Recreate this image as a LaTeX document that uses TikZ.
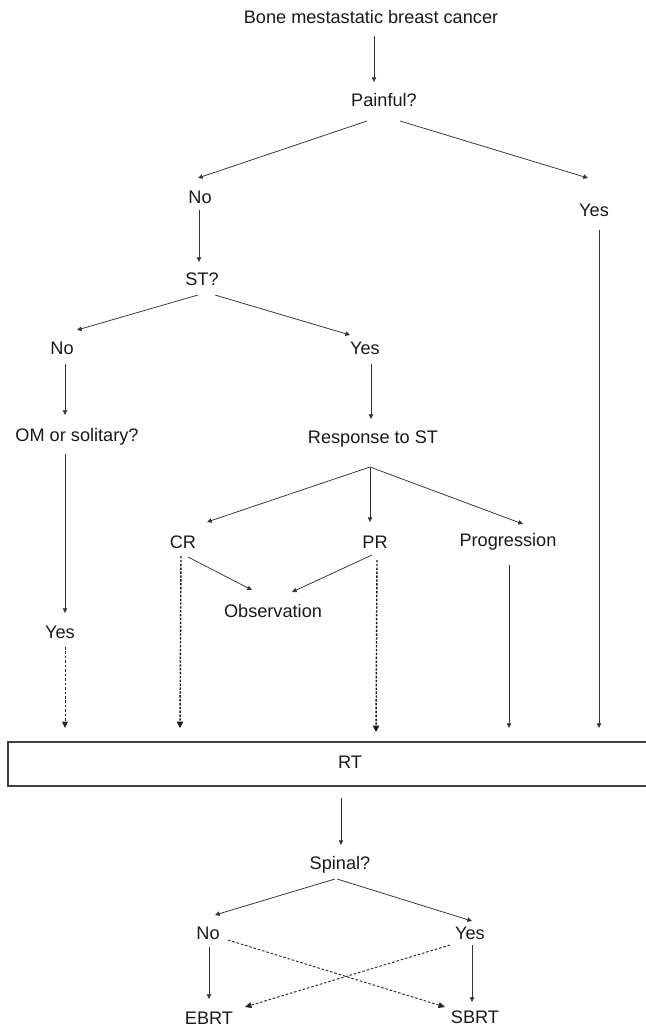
\documentclass[tikz,border=0pt]{standalone}
\usepackage{fontspec}
\setmainfont{Liberation Sans}
\usetikzlibrary{arrows.meta}
\tikzset{
  lbl/.style={inner sep=0pt, font=\fontsize{15.5}{18}\selectfont, text=black!90},
  arr/.style={draw=black!80, line width=0.65pt, -{Triangle[length=4pt,width=3.8pt]}},
  darr/.style={draw=black!90, line width=1.2pt, dash pattern=on 2pt off 1.3pt, -{Triangle[length=5.5pt,width=5.5pt]}},
  tdarr/.style={draw=black!85, line width=0.8pt, dash pattern=on 2.2pt off 1.6pt, -{Triangle[length=5.5pt,width=5pt]}},
}
\begin{document}
\begin{tikzpicture}[x=0.03cm, y=-0.03cm]
\useasboundingbox (0,0) rectangle (646,1030);

\node[lbl] (bone) at (371,17) {Bone mestastatic breast cancer};
\node[lbl] (pain) at (384,100) {Painful?};
\node[lbl] (no1) at (200,197) {No};
\node[lbl] (yes1) at (594,210) {Yes};
\node[lbl] (st) at (202,279) {ST?};
\node[lbl] (no2) at (62,348) {No};
\node[lbl] (yes2) at (365,348) {Yes};
\node[lbl] (om) at (77,437) {OM or solitary?};
\node[lbl] (resp) at (373,439) {Response to ST};
\node[lbl] (cr) at (183,542) {CR};
\node[lbl] (pr) at (375,542) {PR};
\node[lbl] (prog) at (508,542) {Progression};
\node[lbl] (obs) at (273,611) {Observation};
\node[lbl] (yes3) at (60,632) {Yes};

\node[draw=black!75, line width=1pt, minimum width=652*0.03cm, minimum height=44*0.03cm, inner sep=0pt] (box) at (334,764) {};
\node[lbl] (rt) at (350,762) {RT};

\node[lbl] (spinal) at (340,865) {Spinal?};
\node[lbl] (no4) at (208,933) {No};
\node[lbl] (yes4) at (470,933) {Yes};
\node[lbl] (ebrt) at (209,1018) {EBRT};
\node[lbl] (sbrt) at (475,1017) {SBRT};

\coordinate (t1) at (65,728);
\coordinate (t2) at (180,728);
\coordinate (t3) at (376,732);
\coordinate (t4) at (509,728);
\coordinate (t5) at (599,728);

\draw[arr] ([shift={(3,19)}]bone.center) -- ([shift={(-10,-18)}]pain.center);
\draw[arr] ([shift={(-17,21)}]pain.center) -- ([shift={(-2,-19)}]no1.center);
\draw[arr] ([shift={(16,21)}]pain.center) -- ([shift={(-6,-32)}]yes1.center);
\draw[arr] ([shift={(-1,13)}]no1.center) -- ([shift={(-3,-17)}]st.center);
\draw[arr] ([shift={(-4,16)}]st.center) -- ([shift={(15,-18)}]no2.center);
\draw[arr] ([shift={(13,16)}]st.center) -- ([shift={(-15,-13)}]yes2.center);
\draw[arr] ([shift={(3,16)}]no2.center) -- ([shift={(-12,-22)}]om.center);
\draw[arr] ([shift={(6,16)}]yes2.center) -- ([shift={(-2,-20)}]resp.center);
\draw[arr] ([shift={(-12,17)}]om.center) -- ([shift={(5,-19)}]yes3.center);
\draw[arr] ([shift={(-3,28)}]resp.center) -- ([shift={(24,-20)}]cr.center);
\draw[arr] ([shift={(-3,28)}]resp.center) -- ([shift={(-5,-20)}]pr.center);
\draw[arr] ([shift={(-3,28)}]resp.center) -- ([shift={(15,-18)}]prog.center);
\draw[arr] ([shift={(5,15)}]cr.center) -- ([shift={(-21,-21)}]obs.center);
\draw[arr] ([shift={(-3,13)}]pr.center) -- ([shift={(19,-19)}]obs.center);

\draw[darr] ([shift={(-2,14)}]cr.center) -- (t2);
\draw[darr] ([shift={(2,18)}]pr.center) -- (t3);
\draw[arr] ([shift={(1,23)}]prog.center) -- (t4);
\draw[arr] ([shift={(5,20)}]yes1.center) -- (t5);
\draw[tdarr] ([shift={(5,15)}]yes3.center) -- (t1);

\draw[arr] ([shift={(-9,36)}]rt.center) -- ([shift={(1,-20)}]spinal.center);
\draw[arr] ([shift={(-5,14)}]spinal.center) -- ([shift={(7,-18)}]no4.center);
\draw[arr] ([shift={(-3,14)}]spinal.center) -- ([shift={(2,-12)}]yes4.center);
\draw[arr] ([shift={(1,14)}]no4.center) -- ([shift={(0,-19)}]ebrt.center);
\draw[arr] ([shift={(2,12)}]yes4.center) -- ([shift={(-3,-15)}]sbrt.center);
\draw[tdarr] ([shift={(20,7)}]no4.center) -- ([shift={(-30,-10)}]sbrt.center);
\draw[tdarr] ([shift={(-20,12)}]yes4.center) -- ([shift={(36,-11)}]ebrt.center);
\end{tikzpicture}
\end{document}
